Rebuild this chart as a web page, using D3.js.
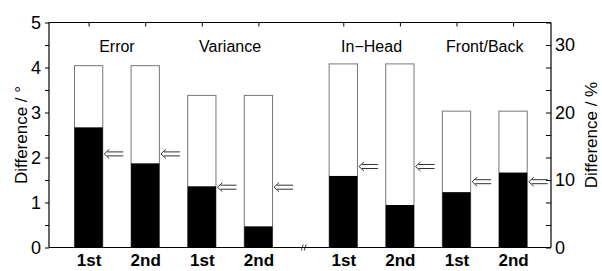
<!DOCTYPE html>
<html lang="en">
<head>
<meta charset="UTF-8">
<title>Difference chart</title>
<style>
  body { margin: 0; background: #fff; }
  svg text { font-family: "Liberation Sans", Arial, sans-serif; fill: #000; }
</style>
</head>
<body>
<svg width="602" height="271"></svg>
<script src="https://d3js.org/d3.v7.min.js"></script>
<script>
// groups and runs
const groups = ['Error', 'Variance', 'In\u2212Head', 'Front/Back'];
const runs = ['1st', '2nd', '1st', '2nd', '1st', '2nd', '1st', '2nd'];
// which axis each bar belongs to (deg = left, pct = right)
const axisOf = ['deg', 'deg', 'deg', 'deg', 'pct', 'pct', 'pct', 'pct'];
// values: outline height, black part, arrow level
const totals = [4.04, 4.04, 3.38, 3.38, 27.2, 27.2, 20.2, 20.2];
const filled = [2.67, 1.87, 1.36, 0.47, 10.6, 6.3, 8.2, 11.1];
const arrows = [2.08, 2.08, 1.34, 1.34, 12.0, 12.0, 9.75, 9.75];
// bar positions on the x axis (gap between the two halves)
const xpos = [1, 2, 3, 4, 5.5, 6.5, 7.5, 8.5];
const leftTicks = [0, 1, 2, 3, 4, 5];
const rightTicks = [0, 10, 20, 30];

const pLeft = 49, pRight = 551, pTop = 22.5, pBottom = 247.5;

const x = d3.scaleLinear().domain([0.3, 9.17]).range([pLeft, pRight]);
const yL = d3.scaleLinear().domain([0, 5]).range([pBottom, pTop]);
const yR = d3.scaleLinear().domain([0, 100 / 3]).range([pBottom, pTop]);
const yOf = (i, v) => axisOf[i] === 'deg' ? yL(v) : yR(v);

const svg = d3.select('svg');
const bw = x(1.5) - x(1);

const data = xpos.map((p, i) => ({ i, p }));

// outline bars
svg.selectAll('.outline').data(data).enter().append('rect')
  .attr('class', 'outline')
  .attr('x', d => x(d.p) - bw / 2)
  .attr('y', d => yOf(d.i, totals[d.i]))
  .attr('width', bw)
  .attr('height', d => pBottom - yOf(d.i, totals[d.i]))
  .attr('fill', '#fff')
  .attr('stroke', '#777')
  .attr('stroke-width', 1);

// black part
svg.selectAll('.fill').data(data).enter().append('rect')
  .attr('class', 'fill')
  .attr('x', d => x(d.p) - bw / 2)
  .attr('y', d => yOf(d.i, filled[d.i]))
  .attr('width', bw)
  .attr('height', d => pBottom - yOf(d.i, filled[d.i]))
  .attr('fill', '#000');

// double arrows
svg.selectAll('.arrow').data(data).enter().append('path')
  .attr('class', 'arrow')
  .attr('d', d => {
    const x0 = x(d.p) + bw / 2 + 1.5, y0 = yOf(d.i, arrows[d.i]);
    return `M${x0 + 5},${y0 - 4.5}L${x0},${y0}L${x0 + 5},${y0 + 4.5}` +
      `M${x0 + 3},${y0 - 2}H${x0 + 19}M${x0 + 3},${y0 + 2}H${x0 + 19}`;
  })
  .attr('fill', 'none')
  .attr('stroke', '#333')
  .attr('stroke-width', 1);

// left axis
const gL = svg.append('g').attr('transform', `translate(${pLeft},0)`)
  .call(d3.axisLeft(yL).tickValues(d3.range(0, 5.01, 0.5)).tickSize(4)
    .tickFormat(d => leftTicks.includes(d) ? d : ''));
// right axis, ticks inward
const gR = svg.append('g').attr('transform', `translate(${pRight},0)`)
  .call(d3.axisRight(yR).tickValues(d3.range(0, 33.34, 10 / 3)).tickSizeInner(-5).tickSizeOuter(0)
    .tickFormat(d => rightTicks.some(t => Math.abs(t - d) < 0.01) ? Math.round(d) : ''));
// top axis ticks inward at bar centres
const gT = svg.append('g').attr('transform', `translate(0,${pTop})`)
  .call(d3.axisTop(x).tickValues(xpos).tickSizeInner(-4).tickSizeOuter(0).tickFormat(''));
// bottom axis
const gB = svg.append('g').attr('transform', `translate(0,${pBottom})`)
  .call(d3.axisBottom(x).tickValues(xpos).tickSize(0).tickFormat((d, i) => runs[i]));

[gL, gR, gT, gB].forEach(g => {
  g.select('.domain').attr('stroke', '#000').attr('stroke-width', 1.2);
  g.selectAll('line').attr('stroke', '#000');
  g.selectAll('text').style('font-size', '18px').attr('fill', '#000');
});
gL.select('.domain').attr('d', `M0,${pTop}V${pBottom}`);
gR.select('.domain').attr('d', `M0,${pTop}V${pBottom}`);
gT.select('.domain').attr('d', `M${pLeft},0H${pRight}`);
gB.select('.domain').attr('d', `M${pLeft},0H${pRight}`);
gB.selectAll('text').attr('y', 6).style('font-weight', 'bold').style('font-size', '17px');
gL.selectAll('text').attr('x', -8);
gR.selectAll('text').attr('x', 4);

// break mark on the x axis
const bx = x(4.8);
svg.append('path')
  .attr('d', `M${bx - 2.5},${pBottom + 3}L${bx - 0.5},${pBottom - 3}M${bx + 0.5},${pBottom + 3}L${bx + 2.5},${pBottom - 3}`)
  .attr('stroke', '#000').attr('stroke-width', 0.8);

// group labels
svg.selectAll('.glabel').data(groups).enter().append('text')
  .attr('x', (d, i) => (x(xpos[i * 2]) + x(xpos[i * 2 + 1])) / 2)
  .attr('y', 52)
  .attr('text-anchor', 'middle')
  .style('font-size', '16px')
  .text(d => d);

// axis titles
svg.append('text')
  .attr('transform', `translate(27,${(pTop + pBottom) / 2}) rotate(-90)`)
  .attr('text-anchor', 'middle')
  .style('font-size', '17px')
  .text('Difference / \u00b0');
svg.append('text')
  .attr('transform', `translate(597,${(pTop + pBottom) / 2}) rotate(-90)`)
  .attr('text-anchor', 'middle')
  .style('font-size', '17px')
  .text('Difference / %');
</script>
</body>
</html>
